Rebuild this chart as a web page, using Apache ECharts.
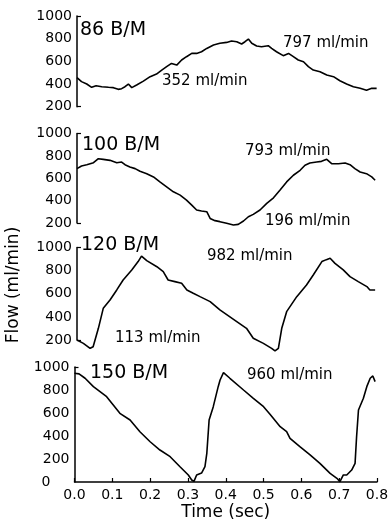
<!DOCTYPE html>
<html>
<head>
<meta charset="utf-8">
<script src="https://cdn.jsdelivr.net/npm/echarts@6/dist/echarts.min.js"></script>
<style>
html,body{margin:0;padding:0;background:#fff;}
#chart{width:390px;height:525px;}
</style>
</head>
<body>
<div id="chart"></div>
<script>
// ---- Data (time in sec, flow in ml/min) ----
const t86 = [0, .012, .026, .039, .051, .066, .084, .097, .110, .119, .128, .137, .146, .159, .177, .195, .212, .226, .239, .252, .266, .279, .292, .306, .319, .332, .346, .364, .381, .399, .412, .426, .439, .448, .457, .466, .479, .492, .510, .519, .532, .55, .564, .577, .59, .604, .617, .63, .648, .666, .684, .701, .719, .737, .755, .772, .786, .799];
const f86 = [456, 421, 400, 371, 385, 376, 371, 368, 353, 359, 376, 400, 368, 391, 426, 465, 488, 523, 553, 582, 567, 612, 641, 670, 670, 685, 714, 744, 759, 767, 779, 773, 753, 773, 797, 759, 735, 729, 738, 714, 685, 650, 670, 641, 612, 597, 553, 523, 509, 479, 465, 429, 400, 376, 362, 345, 362, 362];

const t100 = [0, .012, .026, .044, .057, .07, .088, .106, .119, .128, .141, .155, .168, .186, .204, .221, .239, .257, .275, .292, .306, .319, .332, .346, .355, .368, .381, .399, .417, .43, .444, .457, .47, .488, .506, .524, .541, .559, .577, .595, .608, .621, .639, .652, .666, .679, .697, .715, .728, .741, .755, .772, .786, .795];
const f100 = [686, 710, 721, 739, 775, 769, 760, 739, 745, 721, 701, 686, 662, 641, 612, 567, 523, 479, 449, 404, 360, 316, 307, 301, 241, 221, 212, 197, 182, 188, 218, 256, 277, 316, 375, 425, 493, 567, 627, 671, 716, 736, 745, 751, 769, 730, 730, 736, 721, 686, 656, 641, 612, 582];

const t120 = [0, .017, .035, .043, .057, .07, .088, .106, .123, .146, .163, .172, .186, .213, .23, .243, .261, .279, .293, .31, .328, .355, .381, .426, .452, .47, .497, .519, .528, .537, .546, .559, .586, .612, .63, .653, .665, .675, .688, .71, .728, .75, .773, .781, .795];
const f120 = [200, 171, 128, 142, 301, 474, 546, 633, 719, 805, 878, 926, 886, 834, 791, 719, 705, 690, 632, 604, 575, 532, 460, 359, 301, 215, 171, 128, 105, 128, 301, 445, 575, 676, 762, 878, 895, 907, 863, 806, 748, 705, 662, 633, 633];

const t150 = [0, .012, .028, .05, .085, .12, .147, .173, .2, .226, .253, .279, .301, .31, .316, .323, .336, .345, .35, .356, .367, .38, .385, .394, .411, .447, .473, .5, .517, .544, .561, .57, .596, .623, .649, .676, .694, .702, .711, .72, .733, .742, .746, .751, .764, .773, .782, .789, .795];
const f150 = [945, 940, 902, 829, 742, 597, 539, 437, 350, 278, 220, 133, 61, 17, 5, 61, 78, 133, 252, 539, 655, 829, 887, 951, 902, 800, 728, 655, 590, 481, 438, 380, 307, 235, 162, 75, 32, 3, 61, 61, 104, 162, 394, 626, 728, 829, 902, 922, 873];

const panelLabels = ['86 B/M', '100 B/M', '120 B/M', '150 B/M'];
const notes = ['797 ml/min', '352 ml/min', '793 ml/min', '196 ml/min', '982 ml/min', '113 ml/min', '960 ml/min'];
const xTitle = 'Time (sec)';
const yTitle = 'Flow (ml/min)';

// ---- Chart ----
const FONT = 'DejaVu Sans';
const chart = echarts.init(document.getElementById('chart'), null, {renderer: 'canvas'});
const zip = (a, b) => a.map((v, i) => [v, b[i]]);

const grids = [
  {left: 77, top: 16, width: 300, height: 90.7},
  {left: 77, top: 133.5, width: 300, height: 89.5},
  {left: 77, top: 247.5, width: 300, height: 92.5},
  {left: 74.5, top: 367, width: 302.5, height: 115}
].map(g => Object.assign({containLabel: false, outerBoundsMode: 'none'}, g));

const xAxes = grids.map((g, i) => ({
  type: 'value', gridIndex: i, min: 0, max: 0.8, interval: 0.1,
  show: i === 3,
  axisLine: {show: true, lineStyle: {color: '#000', width: 1.5}},
  axisTick: {show: true, inside: true, length: 4, lineStyle: {color: '#000', width: 1.2}},
  axisLabel: {color: '#000', fontFamily: FONT, fontSize: 14, margin: 6, formatter: v => v.toFixed(1)},
  splitLine: {show: false},
  name: i === 3 ? xTitle : '', nameLocation: 'middle', nameGap: 22,
  nameTextStyle: {color: '#000', fontFamily: FONT, fontSize: 17}
}));

const yAxes = grids.map((g, i) => ({
  type: 'value', gridIndex: i,
  min: i === 3 ? 0 : 200, max: 1000, interval: 200,
  axisLine: {show: true, lineStyle: {color: '#000', width: 1.5}},
  axisTick: {show: true, inside: true, length: 4, customValues: i === 3 ? [1000] : [200, 1000], lineStyle: {color: '#000', width: 1.2}},
  axisLabel: {
    color: '#000', fontFamily: FONT, fontSize: 14, margin: 5,
    formatter: v => v === 0 ? '{z|0}' : String(v),
    rich: {z: {color: '#000', fontFamily: FONT, fontSize: 14, padding: [0, 19, 0, 0]}}
  },
  splitLine: {show: false}
}));

const seriesData = [zip(t86, f86), zip(t100, f100), zip(t120, f120), zip(t150, f150)];
const series = seriesData.map((d, i) => ({
  type: 'line', xAxisIndex: i, yAxisIndex: i, data: d,
  showSymbol: false, symbol: 'none', clip: false, silent: true,
  lineStyle: {color: '#000', width: 1.6}
}));

function txt(text, x, y, size) {
  return {type: 'text', x: x, y: y, silent: true,
    style: {text: text, fill: '#000', font: size + 'px "' + FONT + '"', textAlign: 'left', textVerticalAlign: 'middle'}};
}

const graphic = [
  txt(panelLabels[0], 80, 30, 19),
  txt(notes[0], 283, 43, 15),
  txt(notes[1], 162, 81, 15),
  txt(panelLabels[1], 82, 145.5, 19),
  txt(notes[2], 245, 151, 15),
  txt(notes[3], 265, 221.5, 15),
  txt(panelLabels[2], 81, 245, 19),
  txt(notes[4], 207, 256.5, 15),
  txt(notes[5], 115, 338.5, 15),
  txt(panelLabels[3], 90, 373.5, 19),
  txt(notes[6], 247, 375, 15),
  {type: 'text', x: 14, y: 285, rotation: Math.PI / 2, silent: true,
    style: {text: yTitle, fill: '#000', font: '17px "' + FONT + '"', textAlign: 'center', textVerticalAlign: 'middle'}}
];

chart.setOption({
  animation: false,
  backgroundColor: '#fff',
  grid: grids,
  xAxis: xAxes,
  yAxis: yAxes,
  series: series,
  graphic: graphic
});
</script>
</body>
</html>
